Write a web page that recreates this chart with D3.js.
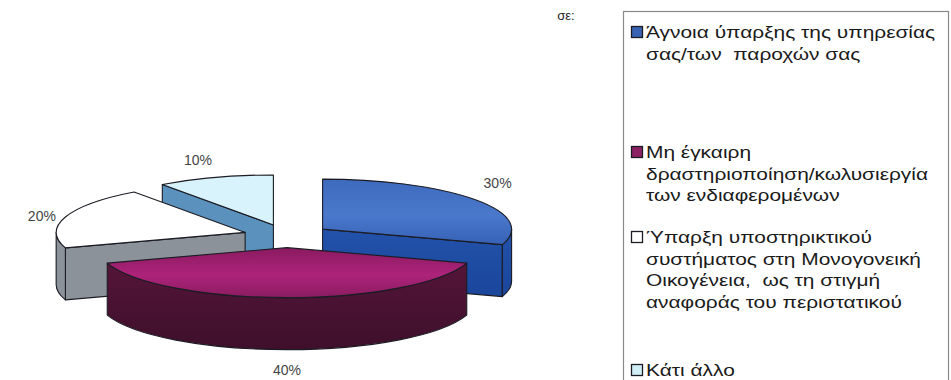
<!DOCTYPE html>
<html><head><meta charset="utf-8">
<script src="https://cdn.jsdelivr.net/npm/d3@7"></script>
<style>body{margin:0;background:#fff}svg{display:block}text{white-space:pre}</style>
</head><body>
<svg id="c" width="951" height="380"></svg>
<script>
// ---- data ----
const titleText = "σε:";
const categories = [
  "Άγνοια ύπαρξης της υπηρεσίας σας/των  παροχών σας",
  "Μη έγκαιρη δραστηριοποίηση/κωλυσιεργία των ενδιαφερομένων",
  "Ύπαρξη υποστηρικτικού συστήματος στη Μονογονεική Οικογένεια,  ως τη στιγμή αναφοράς του περιστατικού",
  "Κάτι άλλο"
];
const legendLines = [
  ["Άγνοια ύπαρξης της υπηρεσίας", "σας/των  παροχών σας"],
  ["Μη έγκαιρη", "δραστηριοποίηση/κωλυσιεργία", "των ενδιαφερομένων"],
  ["Ύπαρξη υποστηρικτικού", "συστήματος στη Μονογονεική", "Οικογένεια,  ως τη στιγμή", "αναφοράς του περιστατικού"],
  ["Κάτι άλλο"]
];
const values = [30, 40, 20, 10];
const valueLabels = ["30%", "40%", "20%", "10%"];
const swatchColors = ["#3a62b2", "#8c2064", "#ffffff", "#d0eef6"];

// ---- geometry ----
const svg = d3.select("#c");
const cx = 287, cy = 236, rx = 189, ry = 50, depth = 52, explode = 44;
const pie = d3.pie().sort(null).value(d => d);
const arcs = pie(values);

const defs = svg.append("defs");
function lin(id, stops) {
  const g = defs.append("linearGradient").attr("id", id).attr("x1",0).attr("y1",0).attr("x2",0).attr("y2",1);
  stops.forEach(s => g.append("stop").attr("offset", s[0]).attr("stop-color", s[1]));
}
lin("gBlue", [["0%","#3d6abd"],["55%","#4a78cb"],["100%","#3662b6"]]);
lin("gMar", [["0%","#8a1a60"],["55%","#ad237a"],["100%","#8a1c60"]]);
lin("gMarW", [["0%","#541539"],["100%","#3e0f2b"]]);
lin("gBlueW", [["0%","#2352aa"],["100%","#1a469c"]]);
const fills = ["url(#gBlue)", "url(#gMar)", "#ffffff", "#d8f3fb"];
const wallFills = ["url(#gBlueW)", "url(#gMarW)", "#8b929a", "#5a92bd"];

function pt(c, a, dz) { return [c[0] + rx * Math.sin(a), c[1] - ry * Math.cos(a) + (dz || 0)]; }

const slices = arcs.map((d, i) => {
  const m = (d.startAngle + d.endAngle) / 2;
  const c = [cx + explode * Math.sin(m), cy - explode * Math.cos(m) * ry / rx];
  return {d, i, m, c};
});

// draw order back to front
const order = [3, 2, 0, 1];
const gPie = svg.append("g");
order.forEach(i => {
  const s = slices[i];
  const a0 = s.d.startAngle, a1 = s.d.endAngle, c = s.c;
  const g = gPie.append("g");
  const stroke = "#1c1c24", sw = 1.1;
  function wall(a) {
    const p = pt(c, a);
    g.append("path").attr("d", `M${c[0]},${c[1]}L${p[0]},${p[1]}L${p[0]},${p[1]+depth}L${c[0]},${c[1]+depth}Z`)
      .attr("fill", wallFills[i]).attr("stroke", stroke).attr("stroke-width", sw).attr("stroke-linejoin","round");
  }
  if (a0 > Math.PI && a0 < 2 * Math.PI) wall(a0);
  if (a1 > 0 && a1 < Math.PI) wall(a1);
  const b0 = Math.max(a0, Math.PI / 2), b1 = Math.min(a1, 3 * Math.PI / 2);
  if (b1 > b0) {
    const p0 = pt(c, b0), p1 = pt(c, b1);
    const lg = (b1 - b0) > Math.PI ? 1 : 0;
    g.append("path").attr("d",
      `M${p0[0]},${p0[1]}A${rx},${ry} 0 ${lg} 1 ${p1[0]},${p1[1]}L${p1[0]},${p1[1]+depth}A${rx},${ry} 0 ${lg} 0 ${p0[0]},${p0[1]+depth}Z`)
      .attr("fill", wallFills[i]).attr("stroke", stroke).attr("stroke-width", sw).attr("stroke-linejoin","round");
  }
  const q0 = pt(c, a0), q1 = pt(c, a1);
  const lg = (a1 - a0) > Math.PI ? 1 : 0;
  g.append("path").attr("d", `M${c[0]},${c[1]}L${q0[0]},${q0[1]}A${rx},${ry} 0 ${lg} 1 ${q1[0]},${q1[1]}Z`)
    .attr("fill", fills[i]).attr("stroke", stroke).attr("stroke-width", sw).attr("stroke-linejoin","round");
});

// labels
const gLab = svg.append("g").attr("font-family", "Liberation Sans, Arial, sans-serif").attr("font-size", 14).attr("fill", "#444");
slices.forEach(s => {
  const m = s.m, sn = Math.sin(m), cs = Math.cos(m);
  const lx = s.c[0] + (rx + 10) * sn;
  let ly = s.c[1] - (ry + 20) * cs + 5 - 6 * sn;
  if (cs < 0) ly += depth * (-cs);
  const anchor = Math.abs(sn) < 0.2 ? "middle" : (sn > 0 ? "start" : "end");
  gLab.append("text").attr("x", lx).attr("y", ly).attr("text-anchor", anchor).text(valueLabels[s.i]);
});

// title fragment
svg.append("text").attr("x", 566).attr("y", 20).attr("text-anchor", "middle")
  .attr("font-family", "Liberation Sans, Arial, sans-serif").attr("font-size", 13).attr("fill", "#222").text(titleText);

// legend
const lg = svg.append("g");
lg.append("rect").attr("x", 623.5).attr("y", 11.5).attr("width", 325).attr("height", 400)
  .attr("fill", "none").attr("stroke", "#8a8a8a").attr("stroke-width", 1.2);
const itemY = [32, 152, 237, 370];
const lineH = 21.5;
const lgText = lg.append("g").attr("font-family", "Liberation Sans, Arial, sans-serif").attr("font-size", 17).attr("fill", "#1a1a1a");
legendLines.forEach((lines, i) => {
  lg.append("rect").attr("x", 631.5).attr("y", itemY[i] - 5.5).attr("width", 11).attr("height", 11)
    .attr("fill", swatchColors[i]).attr("stroke", "#1c1c24").attr("stroke-width", 1.3);
  lines.forEach((t, j) => {
    lgText.append("text").attr("xml:space", "preserve")
      .attr("transform", `translate(646,${itemY[i] + j * lineH + 6}) scale(1.23,1)`).text(t);
  });
});
</script>
</body></html>
